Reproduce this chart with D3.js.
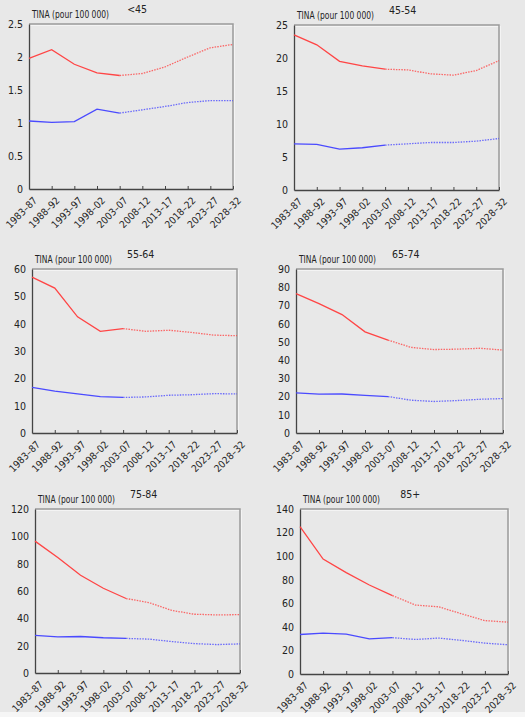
<!DOCTYPE html>
<html>
<head>
<meta charset="utf-8">
<script src="https://cdn.jsdelivr.net/npm/d3@7"></script>
<style>
  html, body { margin: 0; padding: 0; background: #e8e8e8; }
  svg { display: block; }
  text { font-family: "DejaVu Sans Condensed", "Liberation Sans Narrow", "Liberation Sans", sans-serif; font-stretch: condensed; fill: #222; }
</style>
</head>
<body>
<svg id="chart" width="525" height="717"></svg>
<script>
const periods = ["1983–87", "1988–92", "1993–97", "1998–02", "2003–07",
  "2008–12", "2013–17", "2018–22", "2023–27", "2028–32"];
const lastObserved = 4; // 2003–07 : trait plein jusque-là, pointillé ensuite

const groups = ["<45", "45-54", "55-64", "65-74", "75-84", "85+"];
const yMax = [2.5, 25, 60, 90, 120, 140];
const yStep = [0.5, 5, 10, 10, 20, 20];

const hommes = [
  [1.98, 2.11, 1.89, 1.76, 1.72, 1.75, 1.85, 2.0, 2.14, 2.19],
  [23.5, 22.0, 19.5, 18.8, 18.3, 18.2, 17.6, 17.4, 18.1, 19.6],
  [57, 53, 42.5, 37.2, 38.2, 37.2, 37.6, 36.8, 35.8, 35.6],
  [76.5, 71, 65, 55.5, 51, 47, 45.8, 46, 46.5, 45.5],
  [96.5, 84.5, 71.5, 62, 54.5, 51.5, 45.8, 43, 42.5, 42.7],
  [125, 97.5, 86, 75.5, 66.5, 58.5, 57, 51, 45.3, 44]
];
const femmes = [
  [1.03, 1.01, 1.02, 1.21, 1.15, 1.2, 1.25, 1.31, 1.34, 1.34],
  [7.0, 6.9, 6.2, 6.4, 6.8, 7.0, 7.2, 7.2, 7.4, 7.8],
  [16.7, 15.3, 14.3, 13.3, 13.0, 13.2, 13.8, 14.0, 14.4, 14.3],
  [22, 21.3, 21.4, 20.7, 20, 18, 17.3, 17.8, 18.5, 18.9],
  [27.5, 26.5, 26.7, 25.8, 25.3, 24.8, 23, 21.5, 20.8, 21.3],
  [33.5, 34.7, 33.8, 29.8, 30.8, 29.3, 30.5, 28.5, 26.2, 24.8]
];

// cadre de chaque panneau : gauche, droite, haut, bas
const frames = [
  [29, 233, 24, 189], [294, 499, 25, 190],
  [32, 237, 269, 433], [296, 503, 269, 433],
  [35, 240, 509, 673], [300, 508, 509, 674]
];

const svg = d3.select("#chart");
svg.append("rect").attr("x", 0).attr("y", 712).attr("width", 525).attr("height", 5).attr("fill", "#f6f6f6");

groups.forEach((g, k) => {
  const [l, r, t, b] = frames[k];
  const x = d3.scalePoint().domain(periods).range([l, r]);
  const y = d3.scaleLinear().domain([0, yMax[k]]).range([b, t]);
  const p = svg.append("g");

  // cadre haut/droite (gris clair avec reflet blanc)
  p.append("path").attr("d", `M${l},${t + 1}H${r + 1}V${b}`)
    .attr("fill", "none").attr("stroke", "#fff").attr("stroke-width", 1);
  p.append("path").attr("d", `M${l},${t}H${r}V${b}`)
    .attr("fill", "none").attr("stroke", "#999").attr("stroke-width", 1.5);

  // axe Y
  const ticks = d3.range(0, yMax[k] + yStep[k] / 2, yStep[k]);
  const ya = p.append("g").attr("transform", `translate(${l},0)`)
    .call(d3.axisLeft(y).tickValues(ticks).tickSize(0).tickPadding(6)
      .tickFormat((d) => String(+d.toFixed(1))));
  ya.select(".domain").attr("stroke", "#444").attr("stroke-width", 1.3);
  ya.selectAll("text").attr("font-size", 10.5).attr("fill", "#222");

  // axe X
  const xa = p.append("g").attr("transform", `translate(0,${b})`)
    .call(d3.axisBottom(x).tickSizeInner(-3).tickSizeOuter(0).tickPadding(6));
  xa.select(".domain").attr("stroke", "#444").attr("stroke-width", 1.3);
  xa.selectAll(".tick line").attr("stroke", "#444");
  xa.selectAll("text").attr("font-size", 10).attr("fill", "#222")
    .attr("text-anchor", "end").attr("dy", 0)
    .attr("transform", "translate(4,8) rotate(-45)");

  // titres
  p.append("text").attr("x", l + 3).attr("y", t - 6).attr("font-size", 10.5)
    .attr("textLength", 77).attr("lengthAdjust", "spacingAndGlyphs").text("TINA (pour 100 000)");
  p.append("text").attr("x", l + (r - l) * 0.53).attr("y", t - 11).attr("font-size", 10.5)
    .attr("text-anchor", "middle").text(g);

  // séries
  [[hommes[k], "#ff4545"], [femmes[k], "#4a4aff"]].forEach(([vals, col]) => {
    const pts = vals.map((v, i) => [v, i]);
    const l2 = d3.line().x((d) => x(periods[d[1]])).y((d) => y(d[0]));
    p.append("path").attr("d", l2(pts.slice(0, lastObserved + 1)))
      .attr("fill", "none").attr("stroke", col).attr("stroke-width", 1.3);
    p.append("path").attr("d", l2(pts.slice(lastObserved)))
      .attr("fill", "none").attr("stroke", col).attr("stroke-width", 1.3)
      .attr("stroke-dasharray", "1.5,1.2").attr("stroke-opacity", 0.8);
  });
});
</script>
</body>
</html>
